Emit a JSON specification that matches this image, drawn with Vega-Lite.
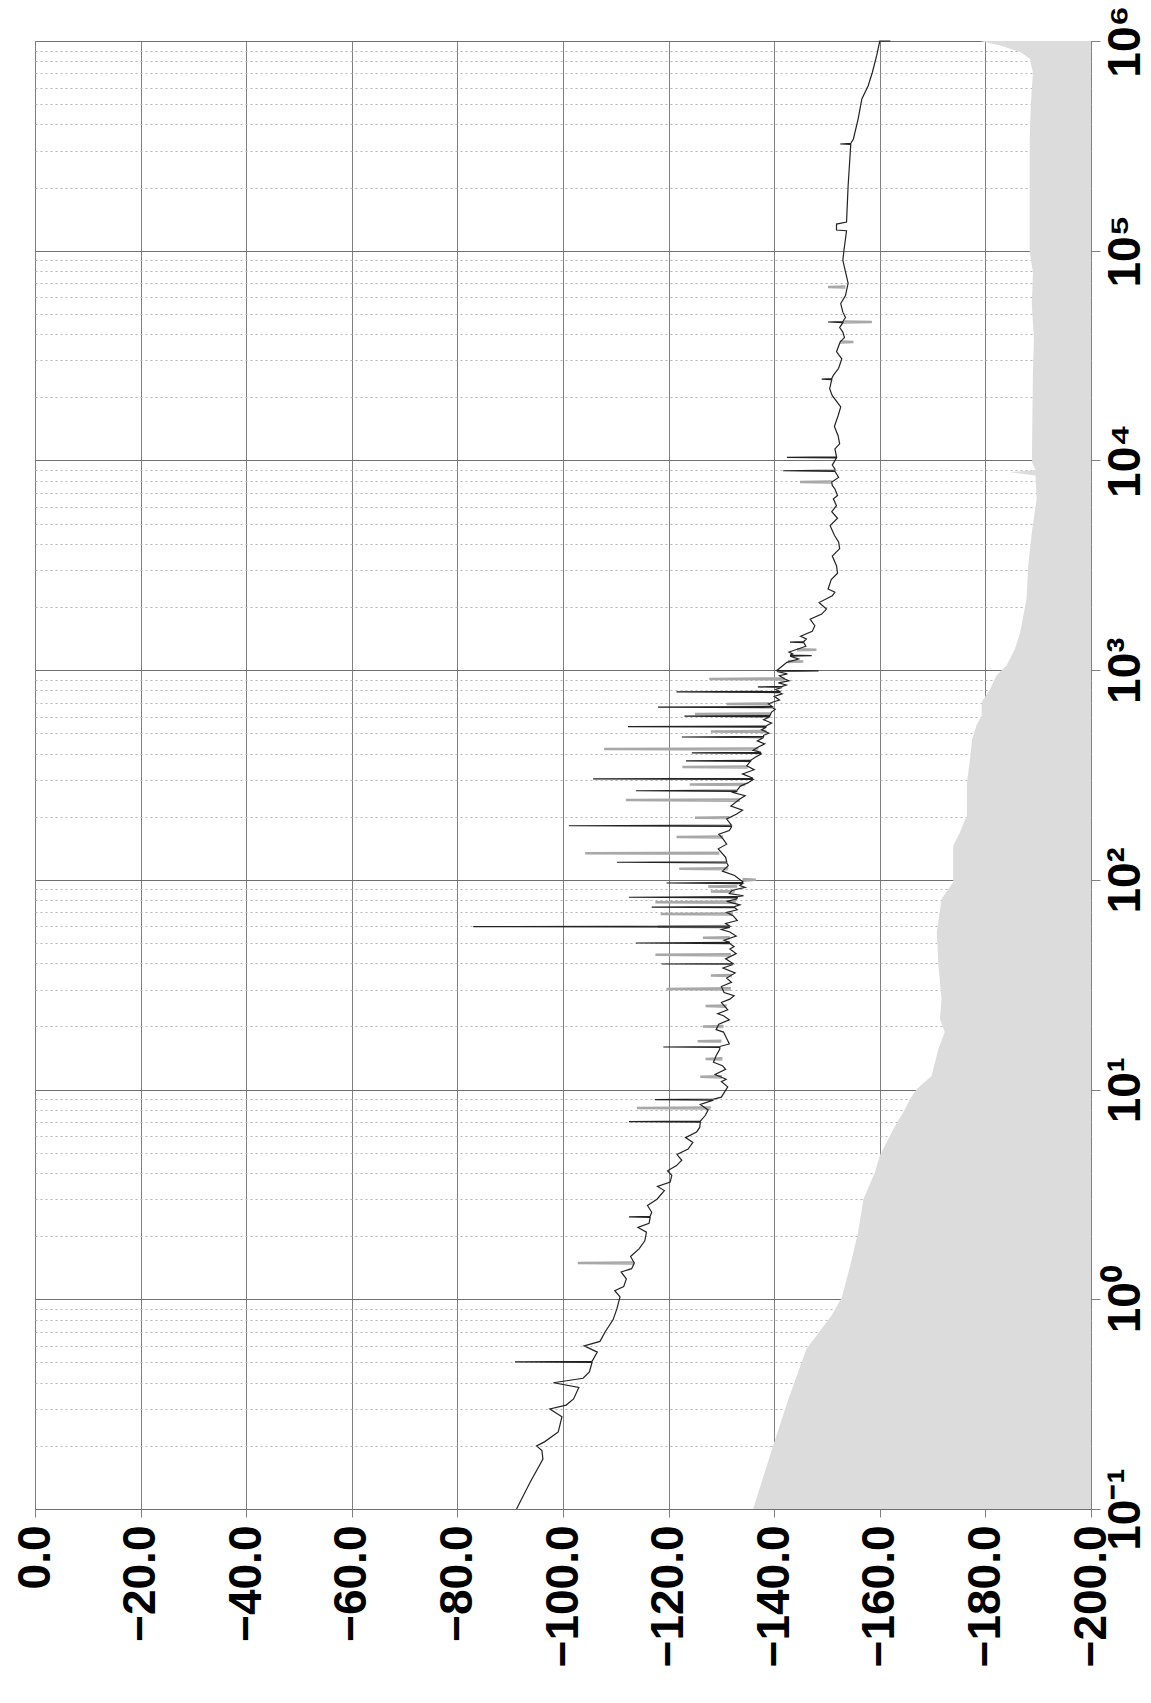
{
  "$schema": "https://vega.github.io/schema/vega-lite/v6.json",
  "autosize": {"type": "none"},
  "padding": {"left": 35, "top": 41, "right": 60, "bottom": 194},
  "width": 1056,
  "height": 1468,
  "datasets": {
    "note": [{"t": "20 dB/DIV"}],
    "floor": [
      {"f": 0.1, "db": -136.0}, {"f": 0.2, "db": -139.8}, {"f": 0.335, "db": -142.7}, {"f": 0.58, "db": -146.1},
      {"f": 0.84, "db": -150.9}, {"f": 1.02, "db": -152.8}, {"f": 1.45, "db": -154.4}, {"f": 2.09, "db": -155.9},
      {"f": 3.0, "db": -156.9}, {"f": 4.05, "db": -159.1}, {"f": 4.84, "db": -160.0}, {"f": 5.61, "db": -161.3},
      {"f": 6.73, "db": -162.9}, {"f": 7.82, "db": -164.5}, {"f": 9.0, "db": -165.7}, {"f": 10.07, "db": -167.0},
      {"f": 11.6, "db": -169.8}, {"f": 15.6, "db": -171.1}, {"f": 18.8, "db": -172.3}, {"f": 21.7, "db": -171.4},
      {"f": 27, "db": -171.7}, {"f": 39, "db": -171.1}, {"f": 56.4, "db": -170.8}, {"f": 81.1, "db": -171.7},
      {"f": 97.5, "db": -173.9}, {"f": 117, "db": -173.9}, {"f": 145.6, "db": -173.9}, {"f": 169, "db": -175.2},
      {"f": 203, "db": -176.5}, {"f": 292, "db": -176.5}, {"f": 378, "db": -177.1}, {"f": 470, "db": -177.5},
      {"f": 545, "db": -178.3}, {"f": 607, "db": -179.3}, {"f": 705, "db": -179.3}, {"f": 813, "db": -180.9},
      {"f": 942, "db": -182.1}, {"f": 1052, "db": -184.0}, {"f": 1262, "db": -185.6}, {"f": 1517, "db": -186.6},
      {"f": 2188, "db": -187.8}, {"f": 3148, "db": -188.1}, {"f": 4560, "db": -188.8}, {"f": 6550, "db": -189.7},
      {"f": 8470, "db": -189.5}, {"f": 8790, "db": -184.7}, {"f": 9000, "db": -189.5}, {"f": 9840, "db": -188.8},
      {"f": 26400, "db": -189.0}, {"f": 37900, "db": -189.2}, {"f": 54700, "db": -188.8}, {"f": 78900, "db": -189.0},
      {"f": 98600, "db": -188.4}, {"f": 164000, "db": -188.4}, {"f": 341000, "db": -188.4}, {"f": 492000, "db": -188.6},
      {"f": 710000, "db": -189.0}, {"f": 822000, "db": -188.4}, {"f": 887000, "db": -186.6}, {"f": 951000, "db": -182.8},
      {"f": 1000000, "db": -179.0}
    ],
    "gray": [
      {"id": 1, "f": 1.481, "db": -113.5}, {"id": 1, "f": 1.49, "db": -102.8}, {"id": 1, "f": 1.499, "db": -113.5},
      {"id": 2, "f": 8.12, "db": -128.0}, {"id": 2, "f": 8.17, "db": -114.0}, {"id": 2, "f": 8.22, "db": -128.0},
      {"id": 3, "f": 30.0, "db": -131.8}, {"id": 3, "f": 30.2, "db": -119.6}, {"id": 3, "f": 30.4, "db": -131.8},
      {"id": 4, "f": 43.6, "db": -131.8}, {"id": 4, "f": 43.9, "db": -117.5}, {"id": 4, "f": 44.2, "db": -131.8},
      {"id": 5, "f": 59.4, "db": -131.6}, {"id": 5, "f": 59.8, "db": -118.0}, {"id": 5, "f": 60.2, "db": -131.6},
      {"id": 6, "f": 68.3, "db": -132.2}, {"id": 6, "f": 68.7, "db": -118.5}, {"id": 6, "f": 69.1, "db": -132.2},
      {"id": 7, "f": 77.8, "db": -132.8}, {"id": 7, "f": 78.3, "db": -117.5}, {"id": 7, "f": 78.8, "db": -132.8},
      {"id": 8, "f": 133.2, "db": -129.6}, {"id": 8, "f": 134, "db": -104.2}, {"id": 8, "f": 134.8, "db": -129.6},
      {"id": 9, "f": 238.6, "db": -133.5}, {"id": 9, "f": 240, "db": -111.9}, {"id": 9, "f": 241.4, "db": -133.5},
      {"id": 10, "f": 418.5, "db": -137.0}, {"id": 10, "f": 421, "db": -107.8}, {"id": 10, "f": 423.5, "db": -137.0},
      {"id": 11, "f": 613, "db": -139.3}, {"id": 11, "f": 617, "db": -125.0}, {"id": 11, "f": 621, "db": -139.3},
      {"id": 12, "f": 902.6, "db": -142.0}, {"id": 12, "f": 908, "db": -127.7}, {"id": 12, "f": 913.4, "db": -142.0},
      {"id": 13, "f": 7842, "db": -150.9}, {"id": 13, "f": 7889, "db": -144.9}, {"id": 13, "f": 7936, "db": -150.9},
      {"id": 14, "f": 66740, "db": -153.5}, {"id": 14, "f": 67140, "db": -150.2}, {"id": 14, "f": 67540, "db": -153.5},
      {"id": 15, "f": 45440, "db": -153.0}, {"id": 15, "f": 45710, "db": -158.5}, {"id": 15, "f": 45980, "db": -153.0},
      {"id": 16, "f": 36510, "db": -152.5}, {"id": 16, "f": 36730, "db": -155.0}, {"id": 16, "f": 36950, "db": -152.5},
      {"id": 17, "f": 11.43, "db": -130.1}, {"id": 17, "f": 11.5, "db": -126.0}, {"id": 17, "f": 11.57, "db": -130.1},
      {"id": 18, "f": 13.9, "db": -130.2}, {"id": 18, "f": 14.0, "db": -127.0}, {"id": 18, "f": 14.1, "db": -130.2},
      {"id": 19, "f": 16.9, "db": -130.0}, {"id": 19, "f": 17.0, "db": -125.5}, {"id": 19, "f": 17.1, "db": -130.0},
      {"id": 20, "f": 19.9, "db": -130.4}, {"id": 20, "f": 20.0, "db": -126.5}, {"id": 20, "f": 20.1, "db": -130.4},
      {"id": 21, "f": 24.85, "db": -131.0}, {"id": 21, "f": 25.0, "db": -127.0}, {"id": 21, "f": 25.15, "db": -131.0},
      {"id": 22, "f": 34.8, "db": -132.0}, {"id": 22, "f": 35.0, "db": -128.0}, {"id": 22, "f": 35.2, "db": -132.0},
      {"id": 23, "f": 52.7, "db": -131.6}, {"id": 23, "f": 53.0, "db": -126.5}, {"id": 23, "f": 53.3, "db": -131.6},
      {"id": 24, "f": 87.5, "db": -132.5}, {"id": 24, "f": 88.0, "db": -128.0}, {"id": 24, "f": 88.5, "db": -132.5},
      {"id": 25, "f": 92.4, "db": -133.0}, {"id": 25, "f": 93.0, "db": -127.5}, {"id": 25, "f": 93.6, "db": -133.0},
      {"id": 26, "f": 99.0, "db": -134.0}, {"id": 26, "f": 100.0, "db": -136.5}, {"id": 26, "f": 101.0, "db": -134.0},
      {"id": 27, "f": 112.4, "db": -131.3}, {"id": 27, "f": 113, "db": -122.0}, {"id": 27, "f": 113.6, "db": -131.3},
      {"id": 28, "f": 159.2, "db": -130.3}, {"id": 28, "f": 160, "db": -121.5}, {"id": 28, "f": 160.8, "db": -130.3},
      {"id": 29, "f": 197, "db": -131.5}, {"id": 29, "f": 198, "db": -125.0}, {"id": 29, "f": 199, "db": -131.5},
      {"id": 30, "f": 283.6, "db": -134.5}, {"id": 30, "f": 285, "db": -124.0}, {"id": 30, "f": 286.4, "db": -134.5},
      {"id": 31, "f": 343.3, "db": -135.0}, {"id": 31, "f": 345, "db": -122.6}, {"id": 31, "f": 346.7, "db": -135.0},
      {"id": 32, "f": 507.5, "db": -138.5}, {"id": 32, "f": 510, "db": -128.0}, {"id": 32, "f": 512.5, "db": -138.5},
      {"id": 33, "f": 686.6, "db": -139.0}, {"id": 33, "f": 690, "db": -131.0}, {"id": 33, "f": 693.4, "db": -139.0},
      {"id": 34, "f": 1094.5, "db": -142.6}, {"id": 34, "f": 1100, "db": -145.5}, {"id": 34, "f": 1105.5, "db": -142.6},
      {"id": 35, "f": 1243.7, "db": -144.3}, {"id": 35, "f": 1250, "db": -148.0}, {"id": 35, "f": 1256.3, "db": -144.3}
    ],
    "trace": [
      {"f": 0.1, "db": -91.2}, {"f": 0.1346, "db": -93.8}, {"f": 0.173, "db": -96.2}, {"f": 0.19, "db": -96.0},
      {"f": 0.2, "db": -95.0}, {"f": 0.209, "db": -96.5}, {"f": 0.233, "db": -99.1}, {"f": 0.275, "db": -99.8},
      {"f": 0.3, "db": -97.5}, {"f": 0.313, "db": -100.6}, {"f": 0.335, "db": -102.0}, {"f": 0.38, "db": -103.0},
      {"f": 0.4, "db": -98.2}, {"f": 0.42, "db": -103.8}, {"f": 0.45, "db": -105.0},
      {"f": 0.4997, "db": -105.5}, {"f": 0.503, "db": -90.9}, {"f": 0.506, "db": -105.5},
      {"f": 0.56, "db": -106.5}, {"f": 0.6, "db": -104.0}, {"f": 0.63, "db": -107.0}, {"f": 0.7, "db": -108.0},
      {"f": 0.8, "db": -109.5}, {"f": 0.9, "db": -110.2}, {"f": 1.026, "db": -110.8}, {"f": 1.1, "db": -109.8},
      {"f": 1.15, "db": -111.5}, {"f": 1.25, "db": -112.0}, {"f": 1.35, "db": -111.0}, {"f": 1.4, "db": -113.0},
      {"f": 1.49, "db": -113.5}, {"f": 1.6, "db": -112.8}, {"f": 1.74, "db": -114.4}, {"f": 1.9, "db": -115.5},
      {"f": 2.09, "db": -115.8}, {"f": 2.2, "db": -114.2}, {"f": 2.3, "db": -116.3},
      {"f": 2.455, "db": -116.5}, {"f": 2.47, "db": -112.5}, {"f": 2.485, "db": -116.5},
      {"f": 2.6, "db": -116.8}, {"f": 2.8, "db": -116.0}, {"f": 3.0, "db": -117.8}, {"f": 3.3, "db": -119.2},
      {"f": 3.45, "db": -117.9}, {"f": 3.62, "db": -120.3}, {"f": 3.9, "db": -120.6}, {"f": 4.1, "db": -119.8},
      {"f": 4.34, "db": -121.5}, {"f": 4.6, "db": -122.5}, {"f": 4.9, "db": -121.6}, {"f": 5.2, "db": -123.7},
      {"f": 5.6, "db": -124.6}, {"f": 5.9, "db": -123.2}, {"f": 6.28, "db": -125.3}, {"f": 6.6, "db": -125.9},
      {"f": 6.99, "db": -126.0}, {"f": 7.03, "db": -112.5}, {"f": 7.07, "db": -126.0},
      {"f": 7.5, "db": -126.9}, {"f": 8.0, "db": -127.5}, {"f": 8.5, "db": -126.0},
      {"f": 8.9, "db": -128.5}, {"f": 8.95, "db": -117.4}, {"f": 9.0, "db": -128.5},
      {"f": 9.2, "db": -130.0}, {"f": 10.3, "db": -131.2}, {"f": 10.9, "db": -130.0}, {"f": 11.2, "db": -130.9},
      {"f": 11.8, "db": -128.8}, {"f": 12.5, "db": -130.8}, {"f": 13, "db": -130.2}, {"f": 13.5, "db": -128.5},
      {"f": 14.5, "db": -129.0}, {"f": 15.6, "db": -129.7},
      {"f": 15.87, "db": -129.7}, {"f": 15.96, "db": -119.0}, {"f": 16.05, "db": -129.7},
      {"f": 16.5, "db": -131.5}, {"f": 17.5, "db": -131.0}, {"f": 18.8, "db": -130.4}, {"f": 19.3, "db": -129.0},
      {"f": 20.5, "db": -129.5}, {"f": 21.5, "db": -131.5}, {"f": 22.5, "db": -130.4}, {"f": 23, "db": -129.3},
      {"f": 24, "db": -131.2}, {"f": 26, "db": -130.0}, {"f": 27, "db": -131.6}, {"f": 28, "db": -132.4},
      {"f": 29, "db": -130.5}, {"f": 31, "db": -130.0}, {"f": 32.5, "db": -131.9}, {"f": 34, "db": -131.0},
      {"f": 36, "db": -132.6}, {"f": 38, "db": -130.3},
      {"f": 39.5, "db": -132.2}, {"f": 39.7, "db": -118.7}, {"f": 39.9, "db": -132.2},
      {"f": 42, "db": -130.8}, {"f": 44.5, "db": -132.8}, {"f": 46.8, "db": -131.6}, {"f": 48, "db": -132.4},
      {"f": 49.7, "db": -131.6}, {"f": 50.0, "db": -113.8}, {"f": 50.3, "db": -131.6},
      {"f": 51.5, "db": -130.5}, {"f": 54, "db": -132.8}, {"f": 56.4, "db": -131.6}, {"f": 58, "db": -130.0},
      {"f": 59.45, "db": -131.6}, {"f": 59.8, "db": -83.0}, {"f": 60.15, "db": -131.6},
      {"f": 62, "db": -130.8}, {"f": 64, "db": -133.0}, {"f": 67.5, "db": -132.2}, {"f": 70, "db": -131.0},
      {"f": 72, "db": -133.0},
      {"f": 73.7, "db": -132.5}, {"f": 74.1, "db": -116.8}, {"f": 74.5, "db": -132.5},
      {"f": 76, "db": -133.5}, {"f": 79, "db": -131.0}, {"f": 81, "db": -132.9},
      {"f": 82.1, "db": -133.0}, {"f": 82.6, "db": -112.5}, {"f": 83.1, "db": -133.0},
      {"f": 84, "db": -134.2}, {"f": 86, "db": -131.5}, {"f": 89, "db": -132.0}, {"f": 92, "db": -134.5},
      {"f": 94, "db": -133.5},
      {"f": 96.0, "db": -134.0}, {"f": 96.6, "db": -119.6}, {"f": 97.2, "db": -134.0},
      {"f": 97.7, "db": -134.1}, {"f": 105, "db": -132.5}, {"f": 110, "db": -130.2}, {"f": 117, "db": -131.3},
      {"f": 120.6, "db": -131.0}, {"f": 121.3, "db": -110.2}, {"f": 122.0, "db": -131.0},
      {"f": 128, "db": -130.8}, {"f": 140.6, "db": -129.4}, {"f": 148, "db": -131.0}, {"f": 156.7, "db": -130.3},
      {"f": 165, "db": -129.5}, {"f": 172, "db": -131.5}, {"f": 178.6, "db": -131.9},
      {"f": 180.0, "db": -131.9}, {"f": 181.1, "db": -101.1}, {"f": 182.2, "db": -131.9},
      {"f": 195, "db": -131.0}, {"f": 206, "db": -132.9}, {"f": 215, "db": -134.0}, {"f": 225, "db": -131.8},
      {"f": 243, "db": -133.5}, {"f": 252, "db": -134.5}, {"f": 261, "db": -132.2},
      {"f": 264.4, "db": -133.0}, {"f": 266, "db": -113.8}, {"f": 267.6, "db": -133.0},
      {"f": 280, "db": -133.6}, {"f": 290, "db": -135.0},
      {"f": 301, "db": -136.0}, {"f": 303, "db": -105.7}, {"f": 305, "db": -136.0},
      {"f": 320, "db": -134.0}, {"f": 335, "db": -136.2}, {"f": 350, "db": -134.8}, {"f": 365, "db": -135.4},
      {"f": 367, "db": -135.5}, {"f": 369, "db": -123.3}, {"f": 371, "db": -135.5},
      {"f": 385, "db": -136.5}, {"f": 398, "db": -137.5},
      {"f": 400.6, "db": -137.5}, {"f": 403, "db": -124.4}, {"f": 405.4, "db": -137.5},
      {"f": 415, "db": -136.0}, {"f": 430, "db": -137.0}, {"f": 445, "db": -138.2}, {"f": 460, "db": -136.8},
      {"f": 477, "db": -138.0}, {"f": 480, "db": -122.5}, {"f": 483, "db": -138.0},
      {"f": 489, "db": -138.0}, {"f": 500, "db": -139.0}, {"f": 520, "db": -137.6},
      {"f": 535, "db": -138.5}, {"f": 538, "db": -112.3}, {"f": 541, "db": -138.5},
      {"f": 545, "db": -138.6}, {"f": 560, "db": -139.5}, {"f": 580, "db": -138.0},
      {"f": 599, "db": -139.2}, {"f": 603, "db": -123.0}, {"f": 607, "db": -139.2},
      {"f": 631, "db": -139.5}, {"f": 650, "db": -140.2},
      {"f": 663, "db": -139.6}, {"f": 667, "db": -118.0}, {"f": 671, "db": -139.6},
      {"f": 690, "db": -138.9}, {"f": 705, "db": -139.8}, {"f": 720, "db": -141.0}, {"f": 750, "db": -140.0},
      {"f": 770, "db": -141.5},
      {"f": 782, "db": -141.0}, {"f": 787, "db": -121.5}, {"f": 792, "db": -141.0},
      {"f": 810, "db": -140.3},
      {"f": 827, "db": -141.5}, {"f": 832, "db": -136.9}, {"f": 837, "db": -141.5},
      {"f": 850, "db": -142.3}, {"f": 870, "db": -140.8}, {"f": 890, "db": -142.8}, {"f": 908, "db": -142.0},
      {"f": 940, "db": -141.0}, {"f": 960, "db": -142.5},
      {"f": 985, "db": -140.5}, {"f": 991, "db": -148.4}, {"f": 997, "db": -140.5},
      {"f": 1089, "db": -142.4}, {"f": 1130, "db": -144.6},
      {"f": 1166, "db": -143.0}, {"f": 1173, "db": -147.1}, {"f": 1180, "db": -143.0},
      {"f": 1194, "db": -143.5}, {"f": 1220, "db": -142.8}, {"f": 1262, "db": -144.5}, {"f": 1300, "db": -146.0},
      {"f": 1353, "db": -145.6}, {"f": 1361, "db": -143.0}, {"f": 1369, "db": -145.6},
      {"f": 1409, "db": -146.1}, {"f": 1450, "db": -145.0}, {"f": 1530, "db": -147.2}, {"f": 1629, "db": -147.7},
      {"f": 1750, "db": -146.8}, {"f": 1850, "db": -149.0}, {"f": 1954, "db": -149.9}, {"f": 2100, "db": -148.5},
      {"f": 2265, "db": -151.0}, {"f": 2350, "db": -151.5}, {"f": 2438, "db": -150.2}, {"f": 2700, "db": -150.8},
      {"f": 2900, "db": -152.0}, {"f": 3148, "db": -151.8}, {"f": 3500, "db": -151.0}, {"f": 3800, "db": -152.4},
      {"f": 4083, "db": -152.2}, {"f": 4400, "db": -151.4}, {"f": 4887, "db": -150.6}, {"f": 5300, "db": -152.0},
      {"f": 5700, "db": -150.9}, {"f": 6081, "db": -151.8}, {"f": 6561, "db": -151.2}, {"f": 6800, "db": -152.0},
      {"f": 7311, "db": -151.5}, {"f": 7600, "db": -151.0}, {"f": 7889, "db": -150.9}, {"f": 8300, "db": -152.2},
      {"f": 8876, "db": -151.5}, {"f": 8930, "db": -141.7}, {"f": 8984, "db": -151.5},
      {"f": 9099, "db": -151.5}, {"f": 9500, "db": -151.0},
      {"f": 10290, "db": -151.8}, {"f": 10350, "db": -142.4}, {"f": 10410, "db": -151.8},
      {"f": 11350, "db": -151.5}, {"f": 12000, "db": -152.4}, {"f": 13120, "db": -152.1}, {"f": 14500, "db": -151.4},
      {"f": 16330, "db": -152.1}, {"f": 18000, "db": -152.6}, {"f": 20370, "db": -151.0}, {"f": 22000, "db": -150.5},
      {"f": 24290, "db": -150.9}, {"f": 24430, "db": -149.0}, {"f": 24570, "db": -150.9},
      {"f": 25470, "db": -151.2}, {"f": 27500, "db": -152.2}, {"f": 30480, "db": -152.8}, {"f": 33000, "db": -151.8},
      {"f": 36730, "db": -152.5}, {"f": 38500, "db": -153.3}, {"f": 40930, "db": -153.0}, {"f": 43000, "db": -152.4},
      {"f": 45440, "db": -153.0}, {"f": 45710, "db": -150.2}, {"f": 45980, "db": -153.0},
      {"f": 48000, "db": -153.5}, {"f": 50930, "db": -153.0}, {"f": 56000, "db": -152.6}, {"f": 61090, "db": -153.5},
      {"f": 70000, "db": -154.0}, {"f": 79250, "db": -153.5}, {"f": 90000, "db": -153.0}, {"f": 100000, "db": -153.2},
      {"f": 124500, "db": -153.7}, {"f": 125500, "db": -151.8}, {"f": 134000, "db": -151.8}, {"f": 137100, "db": -153.7},
      {"f": 204200, "db": -154.0},
      {"f": 320900, "db": -154.5}, {"f": 322800, "db": -152.5}, {"f": 324700, "db": -154.5},
      {"f": 341200, "db": -155.0}, {"f": 425600, "db": -155.9}, {"f": 529700, "db": -156.6}, {"f": 612400, "db": -157.8},
      {"f": 709600, "db": -158.6}, {"f": 851100, "db": -159.4}, {"f": 999000, "db": -160.0}, {"f": 1000000, "db": -162.0}
    ]
  },
  "encoding": {
    "x": {
      "field": "db", "type": "quantitative", "stack": null,
      "scale": {"domain": [-200, 0], "reverse": true, "nice": false, "zero": false},
      "axis": {
        "orient": "bottom", "title": null,
        "values": [0, -20, -40, -60, -80, -100, -120, -140, -160, -180, -200],
        "labelExpr": "format(datum.value, '.1f')",
        "labelAngle": -90, "labelAlign": "right", "labelBaseline": "middle",
        "labelPadding": 8, "tickSize": 8, "grid": true, "labelFlush": false, "labelOverlap": false
      }
    },
    "y": {
      "field": "f", "type": "quantitative",
      "scale": {"type": "log", "domain": [0.1, 1000000], "nice": false},
      "axis": {
        "orient": "right", "title": null,
        "values": [0.1, 0.2, 0.3, 0.4, 0.5, 0.6, 0.7, 0.8, 0.9, 1, 2, 3, 4, 5, 6, 7, 8, 9, 10, 20, 30, 40, 50, 60, 70, 80, 90, 100, 200, 300, 400, 500, 600, 700, 800, 900, 1000, 2000, 3000, 4000, 5000, 6000, 7000, 8000, 9000, 10000, 20000, 30000, 40000, 50000, 60000, 70000, 80000, 90000, 100000, 200000, 300000, 400000, 500000, 600000, 700000, 800000, 900000, 1000000],
        "labelExpr": "abs(log(datum.value)/LN10 - round(log(datum.value)/LN10)) > 0.001 ? '' : (round(log(datum.value)/LN10) == -1 ? '10⁻¹' : '10' + ['⁰','¹','²','³','⁴','⁵','⁶'][round(log(datum.value)/LN10)])",
        "labelAngle": -90, "labelAlign": "center", "labelBaseline": "top",
        "labelPadding": 3, "grid": true, "labelFlush": false, "labelOverlap": false,
        "tickSize": {"condition": {"test": "abs(log(datum.value)/LN10 - round(log(datum.value)/LN10)) > 0.001", "value": 0}, "value": 9},
        "gridDash": {"condition": {"test": "abs(log(datum.value)/LN10 - round(log(datum.value)/LN10)) > 0.001", "value": [2, 3]}, "value": []},
        "gridColor": {"condition": {"test": "abs(log(datum.value)/LN10 - round(log(datum.value)/LN10)) > 0.001", "value": "#b4b4b4"}, "value": "#707070"}
      }
    }
  },
  "layer": [
    {
      "data": {"name": "floor"},
      "mark": {"type": "area", "orient": "horizontal", "color": "#dcdcdc", "opacity": 1},
      "encoding": {"x2": {"datum": -200}}
    },
    {
      "data": {"name": "gray"},
      "mark": {"type": "line", "color": "#a8a8a8", "strokeWidth": 2.5},
      "encoding": {"detail": {"field": "id", "type": "nominal"}, "order": {"field": "f", "type": "quantitative"}}
    },
    {
      "data": {"name": "trace"},
      "mark": {"type": "line", "color": "#222222", "strokeWidth": 1.2},
      "encoding": {"order": {"field": "f", "type": "quantitative"}}
    },
    {
      "data": {"name": "note"},
      "mark": {"type": "text", "angle": 270, "align": "right", "baseline": "alphabetic", "font": "Liberation Sans", "fontWeight": "bold", "fontSize": 46, "fill": "#000000", "clip": false},
      "encoding": {
        "x": {"datum": 2.0, "type": "quantitative"},
        "y": {"datum": 1000000, "type": "quantitative"},
        "text": {"field": "t", "type": "nominal"}
      }
    }
  ],
  "config": {
    "view": {"stroke": "#808080", "strokeWidth": 1},
    "axis": {
      "labelFont": "Liberation Sans", "labelFontWeight": "bold", "labelFontSize": 46, "labelColor": "#000000",
      "gridColor": "#808080", "gridWidth": 1, "tickColor": "#808080", "domain": false, "zindex": 1
    }
  }
}
